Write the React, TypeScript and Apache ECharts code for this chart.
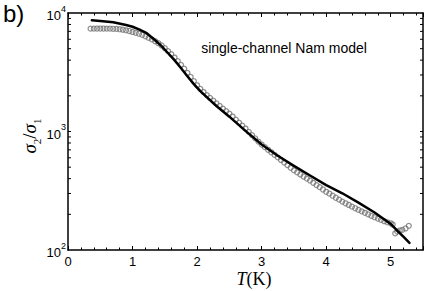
import React, { useEffect, useRef } from 'react';
import * as echarts from 'echarts';

// Measured data (open circles)
const circleT = [
  0.35, 0.4, 0.45, 0.5, 0.55, 0.6, 0.65, 0.7, 0.75, 0.8, 0.85, 0.9, 0.95,
  1.0, 1.05, 1.1, 1.15, 1.2, 1.25, 1.3, 1.35, 1.4, 1.45, 1.5, 1.55, 1.6, 1.65,
  1.7, 1.75, 1.8, 1.85, 1.9, 1.95, 2.0, 2.05, 2.1, 2.15, 2.2, 2.25, 2.3, 2.35,
  2.4, 2.45, 2.5, 2.55, 2.6, 2.65, 2.7, 2.75, 2.8, 2.85, 2.9, 2.95, 3.0, 3.05,
  3.1, 3.15, 3.2, 3.25, 3.3, 3.35, 3.4, 3.45, 3.5, 3.55, 3.6, 3.65, 3.7, 3.75,
  3.8, 3.85, 3.9, 3.95, 4.0, 4.05, 4.1, 4.15, 4.2, 4.25, 4.3, 4.35, 4.4, 4.45,
  4.5, 4.55, 4.6, 4.65, 4.7, 4.75, 4.8, 4.85, 4.9, 4.95, 5.0, 5.03, 5.07, 5.1,
  5.14, 5.18, 5.23, 5.28,
];
const circleRatio = [
  7380, 7380, 7396, 7396, 7396, 7380, 7380, 7362, 7345, 7295, 7228, 7145, 7047,
  6918, 6808, 6683, 6531, 6353, 6166, 5984, 5781, 5559, 5321, 5047, 4764, 4487, 4207,
  3926, 3648, 3388, 3126, 2884, 2661, 2455, 2291, 2153, 2028, 1919, 1820, 1726, 1641,
  1560, 1486, 1416, 1337, 1259, 1189, 1122, 1059, 993, 933, 875, 822, 776, 738,
  701, 668, 635, 605, 575, 547, 520, 494, 470, 452, 434, 417, 401, 385,
  369, 353, 339, 324, 310, 299, 287, 276, 266, 256, 248, 240, 232, 225,
  218, 212, 206, 200, 194, 189, 184, 180, 175, 171, 168, 164, 138, 143,
  146, 148, 152, 160,
];

// Single-channel Nam model fit (solid line)
const fitT = [
  0.37, 0.5, 0.7, 0.9, 1.0, 1.1, 1.22, 1.35, 1.45, 1.53, 1.64, 1.74, 1.85, 1.95,
  2.05, 2.15, 2.3, 2.5, 2.75, 3.0, 3.25, 3.5, 3.75, 4.0, 4.25, 4.5, 4.75, 5.0,
  5.1, 5.2, 5.29,
];
const fitRatio = [
  8670, 8570, 8340, 7910, 7660, 7280, 6750, 5890, 5250, 4710, 4060, 3480, 2930, 2510,
  2190, 1950, 1640, 1334, 1012, 776, 624, 513, 425, 353, 301, 251, 207, 166,
  146, 129, 115,
];

const xLabels = [0, 1, 2, 3, 4, 5];
const yLabels = [100, 1000, 10000];
const yTicks = [
  200, 300, 400, 500, 600, 700, 800, 900,
  1000, 2000, 3000, 4000, 5000, 6000, 7000, 8000, 9000,
];

const panelLabel = 'b)';
const annotation = 'single-channel Nam model';

export default function App() {
  const ref = useRef<HTMLDivElement>(null);

  useEffect(() => {
    document.body.style.margin = '0';
    const chart = echarts.init(ref.current!, null, { renderer: 'svg' });
    const sans = 'Liberation Sans, Arial, sans-serif';
    const serif = 'Liberation Serif, DejaVu Serif, serif';
    const axisLine = { show: true, onZero: false, lineStyle: { color: '#000', width: 1.5 } };

    const xCommon = {
      type: 'value',
      min: 0,
      max: 5.5,
      interval: 1,
      splitLine: { show: false },
      axisLine,
      axisTick: { show: true, inside: true, length: 4, lineStyle: { color: '#000', width: 1 } },
      minorTick: { show: true, splitNumber: 5, length: 2.5, lineStyle: { color: '#000', width: 1 } },
    };
    const yCommon = {
      type: 'log',
      logBase: 10,
      min: 100,
      max: 10000,
      splitLine: { show: false },
      axisLine,
      axisTick: { show: false },
    };

    chart.setOption({
      animation: false,
      backgroundColor: '#fff',
      grid: { left: 68, right: 13, top: 13, bottom: 41, containLabel: false },
      xAxis: [
        {
          ...xCommon,
          position: 'bottom',
          axisLabel: {
            show: true,
            customValues: xLabels,
            margin: 5,
            color: '#000',
            fontSize: 13,
            lineHeight: 13,
            fontFamily: sans,
          },
        },
        { ...xCommon, position: 'top', axisLabel: { show: false } },
      ],
      yAxis: [
        {
          ...yCommon,
          position: 'left',
          axisLabel: {
            show: true,
            customValues: yLabels,
            margin: 2,
            color: '#000',
            formatter: (v: number) => `{b|10}{e|${Math.round(Math.log10(v))}}`,
            rich: {
              b: { fontSize: 13, fontFamily: sans, color: '#000', verticalAlign: 'bottom', lineHeight: 18 },
              e: { fontSize: 9, fontFamily: sans, color: '#000', verticalAlign: 'top', lineHeight: 18 },
            },
          },
        },
        { ...yCommon, position: 'right', axisLabel: { show: false } },
      ],
      graphic: [
        {
          type: 'text',
          left: 3,
          top: 1,
          style: { text: panelLabel, fontSize: 24, fontFamily: sans, fill: '#000' },
        },
        {
          type: 'text',
          x: 284,
          y: 48,
          style: {
            text: annotation,
            fontSize: 14,
            fontFamily: sans,
            fill: '#000',
            align: 'center',
            verticalAlign: 'middle',
          },
        },
        {
          type: 'text',
          x: 254,
          y: 279,
          style: {
            text: '{i|T}{n|(K)}',
            align: 'center',
            verticalAlign: 'middle',
            rich: {
              i: { fontSize: 18, fontFamily: serif, fontStyle: 'italic', fill: '#000', lineHeight: 18 },
              n: { fontSize: 18, fontFamily: serif, fill: '#000', lineHeight: 18 },
            },
          },
        },
        {
          type: 'text',
          x: 31,
          y: 136,
          rotation: Math.PI / 2,
          style: {
            text: '{i|σ}{s|2}{n|/}{i|σ}{s|1}',
            align: 'center',
            verticalAlign: 'middle',
            rich: {
              i: { fontSize: 19, fontFamily: serif, fontStyle: 'italic', fill: '#000', lineHeight: 22, verticalAlign: 'top' },
              n: { fontSize: 19, fontFamily: serif, fill: '#000', lineHeight: 22, verticalAlign: 'top' },
              s: { fontSize: 11, fontFamily: serif, fill: '#000', lineHeight: 12, verticalAlign: 'bottom' },
            },
          },
        },
      ],
      series: [
        {
          type: 'scatter',
          xAxisIndex: 0,
          yAxisIndex: 0,
          symbol: 'circle',
          symbolSize: 5,
          itemStyle: { color: 'rgba(0,0,0,0)', borderColor: '#707070', borderWidth: 1.2 },
          data: circleT.map((t, i) => [t, circleRatio[i]]),
          z: 2,
        },
        {
          type: 'line',
          xAxisIndex: 0,
          yAxisIndex: 0,
          showSymbol: false,
          symbol: 'none',
          smooth: false,
          lineStyle: { color: '#000', width: 2.5, join: 'round', cap: 'round' },
          data: fitT.map((t, i) => [t, fitRatio[i]]),
          z: 3,
        },
        {
          // minor log ticks on the left and right frame edges
          type: 'custom',
          xAxisIndex: 0,
          yAxisIndex: 0,
          silent: true,
          clip: false,
          encode: { x: 0, y: 1 },
          data: yTicks.map((v) => [0, v]),
          renderItem: (_params: any, api: any) => {
            const v = api.value(1);
            const l = api.coord([0, v]);
            const r = api.coord([5.5, v]);
            return {
              type: 'group',
              children: [
                { type: 'line', shape: { x1: l[0], y1: l[1], x2: l[0] + 3, y2: l[1] }, style: { stroke: '#000', lineWidth: 1 } },
                { type: 'line', shape: { x1: r[0], y1: r[1], x2: r[0] - 3, y2: r[1] }, style: { stroke: '#000', lineWidth: 1 } },
              ],
            };
          },
          z: 4,
        },
      ],
    });
    return () => chart.dispose();
  }, []);

  return <div ref={ref} style={{ width: 436, height: 291 }} />;
}
